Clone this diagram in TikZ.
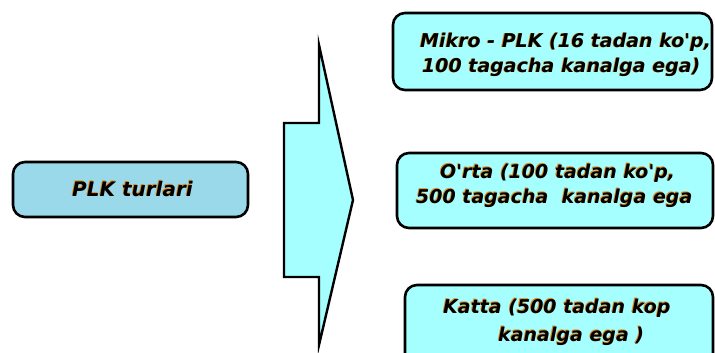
\documentclass[tikz,border=0pt]{standalone}
\usepackage{fontspec}
\newfontfamily\dejav{DejaVu Sans}
\definecolor{lblue}{HTML}{99D9EA}
\definecolor{lcyan}{HTML}{A6FFFF}
\definecolor{shad}{HTML}{E08A1E}
\newcommand{\sh}[1]{\makebox[0pt][l]{\hspace{-0.8pt}\raisebox{0.3pt}{\color{shad}#1}}#1}
\tikzset{
  box/.style={draw=black, line width=2.6pt, rounded corners=12pt, inner sep=0pt},
  txt/.style={anchor=base west, inner sep=0pt, font=\dejav\bfseries\itshape\fontsize{19}{19}\selectfont},
  arrowshape/.style={draw=black, line width=2.4pt, fill=lcyan, line join=miter}
}
\begin{document}
\begin{tikzpicture}[x=1pt,y=-1pt]
\clip (0,0) rectangle (715,353);
\fill[white] (0,0) rectangle (715,353);
% left box
\node[box, fill=lblue, minimum width=235pt, minimum height=55pt] (plk) at (130.5,189.5) {};
% arrow
\coordinate (a1) at (319,45);
\coordinate (a2) at (319,123);
\coordinate (a3) at (284,123);
\coordinate (a4) at (284,277);
\coordinate (a5) at (319,277);
\coordinate (a6) at (319,345);
\coordinate (a7) at (353,200);
\draw[arrowshape] (a1) -- (a2) -- (a3) -- (a4) -- (a5) -- (a6) -- (a7) -- cycle;
% right boxes
\node[box, fill=lcyan, minimum width=319pt, minimum height=77pt] (mikro) at (552.5,51.5) {};
\node[box, fill=lcyan, minimum width=316pt, minimum height=75pt] (orta) at (555,190.5) {};
\node[box, fill=lcyan, minimum width=308pt, minimum height=80pt] (katta) at (559,325) {};
% texts
\node[txt, font=\dejav\bfseries\itshape\fontsize{20}{20}\selectfont] (t0) at (72,196) {\sh{PLK turlari}};
\node[txt] (t1) at (420,48) {\sh{Mikro - PLK (16 tadan ko'p,}};
\node[txt] (t2) at (422,73) {\sh{100 tagacha kanalga ega)}};
\node[txt] (t3) at (440,178) {\sh{O'rta (100 tadan ko'p,}};
\node[txt] (t4) at (416,203) {\sh{500 tagacha\ \ kanalga ega}};
\node[txt] (t5) at (443,313) {\sh{Katta (500 tadan kop}};
\node[txt] (t6) at (498,341) {\sh{kanalga ega )}};
\end{tikzpicture}
\end{document}
